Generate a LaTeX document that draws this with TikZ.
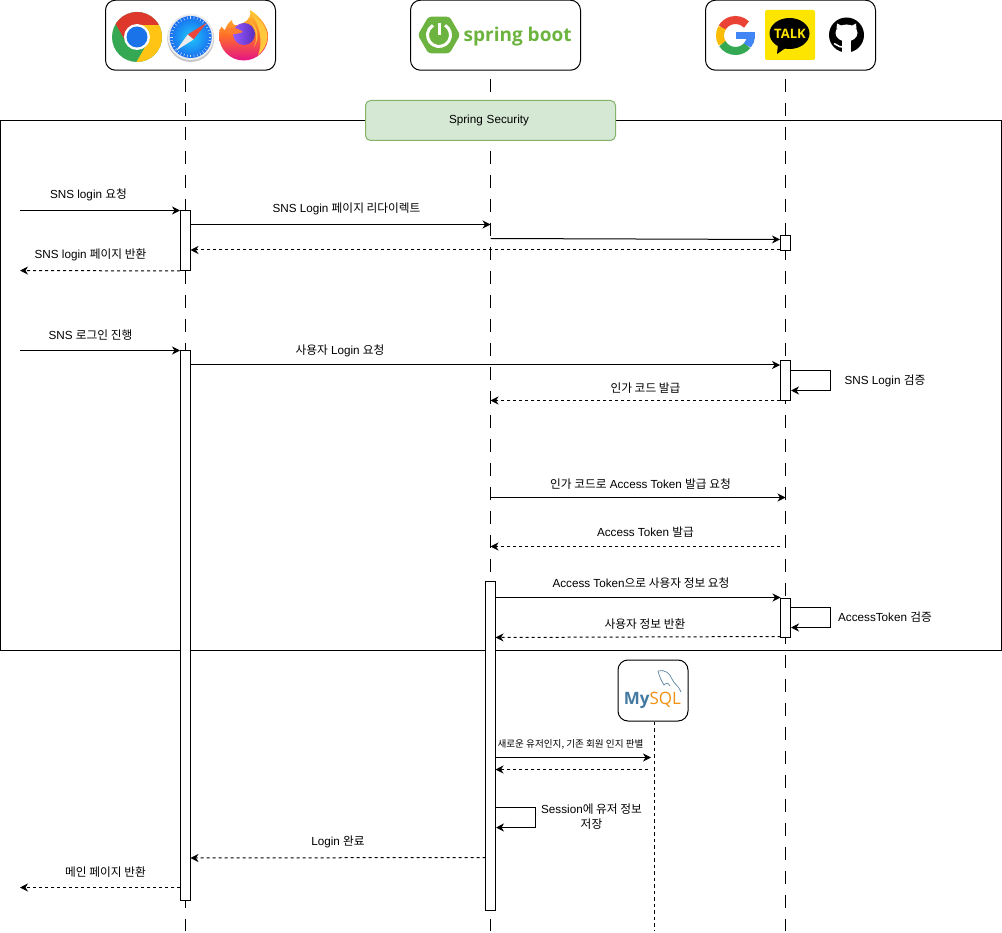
\documentclass[tikz,border=0pt]{standalone}
\usepackage{fontspec}
\setmainfont{Liberation Sans}
\newfontfamily\kr{Noto Sans CJK KR}
\newfontfamily\logofont{Open Sans}
\usetikzlibrary{arrows.meta,shapes.geometric,calc}
\newcommand\K[1]{{\kr #1}}
\definecolor{ssfill}{HTML}{D5E8D4}
\definecolor{ssdraw}{HTML}{82B366}
\definecolor{sprgreen}{HTML}{6DB33F}
\tikzset{
  header/.style={draw=black,line width=1pt,rounded corners=10pt,fill=white,minimum width=170pt,minimum height=70pt,inner sep=0pt},
  lifeline/.style={draw=black,line width=1pt,dash pattern=on 13pt off 11pt,dash phase=16pt},
  thinlife/.style={draw=black,line width=1pt,dash pattern=on 3.5pt off 3pt},
  act/.style={draw=black,line width=1pt,fill=white,minimum width=10pt,inner sep=0pt,anchor=north},
  msg/.style={draw=black,line width=1pt,-{Stealth[length=8pt,width=8pt,inset=2.5pt]}},
  ret/.style={msg,dash pattern=on 3pt off 3pt},
  lab/.style={font=\fontsize{11.7}{14}\selectfont,inner sep=0pt,align=center},
  smalllab/.style={font=\fontsize{9.6}{11}\selectfont,inner sep=0pt},
}
\begin{document}
\begin{tikzpicture}[x=1pt,y=-1pt]
\useasboundingbox (0,0) rectangle (1002,933);
% frame
\node[draw=black,line width=1pt,minimum width=1000.5pt,minimum height=529.5pt,anchor=north west,inner sep=0pt] (frame) at (0,120.5) {};
% headers
\node[header] (hA) at (190.5,35.2) {};
\node[header] (hB) at (495.5,35.2) {};
\node[header] (hC) at (790.5,35.2) {};
\node[draw=black,line width=1pt,rounded corners=10pt,fill=white,minimum width=70pt,minimum height=61pt,inner sep=0pt] (hD) at (653,690.5) {};
% lifelines
\coordinate (endA) at (185.5,931);
\coordinate (endB) at (490.5,931);
\coordinate (endC) at (785.5,931);
\coordinate (endD) at (654.5,931);
\draw[lifeline] (hA.south -| endA) -- (endA);
\draw[lifeline] (hB.south -| endB) -- (endB);
\draw[lifeline] (hC.south -| endC) -- (endC);
\draw[thinlife] (hD.south -| endD) -- (endD);
% Spring Security
\node[draw=ssdraw,fill=ssfill,line width=1pt,rounded corners=5pt,minimum width=250pt,minimum height=40pt,inner sep=0pt,font=\fontsize{11.7}{14}\selectfont,text width=250pt,align=center] (ss) at (490.5,120.5) {\hspace*{-3pt}Spring Security};
% activations
\node[act,minimum height=59.5pt] (A1) at (185.5,210.5) {};
\node[act,minimum height=549.5pt] (A2) at (185.5,350.5) {};
\node[act,minimum height=329.5pt] (B1) at (490.5,580.5) {};
\node[act,minimum height=15pt] (C1) at (785.5,235.5) {};
\node[act,minimum height=40pt] (C2) at (785.5,360.5) {};
\node[act,minimum height=39.5pt] (C3) at (785.5,597.5) {};
% free ends
\coordinate (f1) at (20,210.5);
\coordinate (f2) at (20,270.5);
\coordinate (f3) at (20,350.5);
\coordinate (f4) at (20,887.5);
\coordinate (a2y) at (185.5,224.5);
\coordinate (b2) at (490.5,224.5);
\coordinate (b3) at (490.5,238.5);
\coordinate (c3) at (780,239.5);
\coordinate (c4) at (780,250);
\coordinate (a4) at (190.5,250);
\coordinate (c7) at (780,365);
\coordinate (a7) at (190.5,365);
\coordinate (c9) at (780,400.5);
\coordinate (b9) at (490.5,400.5);
\coordinate (b10) at (490.5,497.5);
\coordinate (c10) at (785.5,497.5);
\coordinate (c11) at (780,546.5);
\coordinate (b11) at (490.5,546.5);
\coordinate (b12) at (495.5,597.5);
\coordinate (c12) at (780.5,597.5);
\coordinate (c14) at (780.5,636.5);
\coordinate (b14) at (495.5,637.5);
\coordinate (b15) at (495.5,757.5);
\coordinate (d15) at (651,757.5);
\coordinate (d16) at (648,769.5);
\coordinate (b16) at (495.5,769.5);
\coordinate (b18) at (485.5,857.5);
\coordinate (a18) at (190.5,858);
% messages
\draw[msg] (f1) -- (A1.north west);
\draw[msg] (A1.east |- a2y) -- (b2);
\draw[msg] (b3) -- (c3);
\draw[ret] (c4) -- (a4);
\draw[ret] (A1.south west) -- (f2);
\draw[msg] (f3) -- (A2.north west);
\draw[msg] (a7) -- (c7);
\draw[msg] (C2.east |- 0,371) -- (830.5,371) -- (830.5,390.5) -- (C2.east |- 0,390.5);
\draw[ret] (c9) -- (b9);
\draw[msg] (b10) -- (c10);
\draw[ret] (c11) -- (b11);
\draw[msg] (b12) -- (c12);
\draw[msg] (C3.east |- 0,607.5) -- (830.5,607.5) -- (830.5,627.5) -- (C3.east |- 0,627.5);
\draw[ret] (c14) -- (b14);
\draw[msg] (b15) -- (d15);
\draw[ret] (d16) -- (b16);
\draw[msg] (B1.east |- 0,807.5) -- (535.5,807.5) -- (535.5,827.5) -- (B1.east |- 0,827.5);
\draw[ret] (b18) -- (a18);
\draw[ret] (A2.west |- f4) -- (f4);
% labels
\node[lab] (t1) at (88.5,195) {SNS login \K{요청}};
\node[lab] (t2) at (346.5,209) {SNS Login \K{페이지 리다이렉트}};
\node[lab] (t3) at (90.5,255) {SNS login \K{페이지 반환}};
\node[lab] (t4) at (90.5,335) {SNS \K{로그인 진행}};
\node[lab] (t5) at (340,351) {\K{사용자} Login \K{요청}};
\node[lab] (t6) at (885,380.5) {SNS Login \K{검증}};
\node[lab] (t7) at (645.5,388) {\K{인가 코드 발급}};
\node[lab] (t8) at (640.5,484.5) {\K{인가 코드로} Access Token \K{발급 요청}};
\node[lab] (t9) at (645.5,532) {Access Token \K{발급}};
\node[lab] (t10) at (641,583.5) {Access Token\K{으로 사용자 정보 요청}};
\node[lab] (t11) at (885,617.5) {AccessToken \K{검증}};
\node[lab] (t12) at (645,624) {\K{사용자 정보 반환}};
\node[smalllab] (t13) at (570.5,744) {\K{새로운 유저인지, 기존 회원 인지 판별}};
\node[lab] (t14) at (591.5,816.5) {Session\K{에 유저 정보}\\[1pt]\K{저장}};
\node[lab] (t15) at (338,842) {Login \K{완료}};
\node[lab] (t16) at (105.5,872) {\K{메인 페이지 반환}};
% ===== Chrome
\begin{scope}
\clip (137,37) circle[radius=25pt];
\fill[fill={rgb,255:red,52;green,168;blue,83}] (110,10) rectangle (165,65);
\fill[fill={rgb,255:red,255;green,196;blue,20}] (137,25) -- (170,25) -- (170,70) -- (132.4,69) -- (147.4,43) -- cycle;
\fill[fill={rgb,255:red,222;green,56;blue,44}] (126.6,43) -- (111.6,17) -- (111.6,0) -- (170,0) -- (170,25) -- (137,25) -- cycle;
\end{scope}
\fill[white] (137,37) circle[radius=13pt];
\fill[fill={rgb,255:red,26;green,115;blue,232}] (137,37) circle[radius=10.5pt];
% ===== Safari
\fill[black!22] (190.7,38.5) circle[radius=23.5pt];
\fill[black!8] (190.7,37) circle[radius=23pt];
\shade[inner color={rgb,255:red,30;green,200;blue,250},outer color={rgb,255:red,25;green,110;blue,240}] (190.7,37) circle[radius=21pt];
\foreach \a in {0,10,...,350}{\draw[white,line width=0.5pt,opacity=.8] (190.7,37) ++(\a:18pt) -- ++(\a:2.5pt);}
\fill[fill={rgb,255:red,235;green,70;blue,60}] (206.7,22.7) -- (187.7,34.5) -- (193.5,39.5) -- cycle;
\fill[black!8] (176,50.7) -- (187.7,34.5) -- (193.5,39.5) -- cycle;
% ===== Firefox
\shade[top color={rgb,255:red,255;green,205;blue,50},bottom color={rgb,255:red,228;green,20;blue,135},middle color={rgb,255:red,255;green,110;blue,40}]
 (219.2,36) .. controls (219,31) and (220,28) .. (221.7,26.5) .. controls (222.5,28) and (223.5,29.5) .. (225,30) .. controls (226,26) and (229,22) .. (232,20)
 .. controls (232,24) and (234,26) .. (238,25) .. controls (244,23) and (252,20) .. (250,10)
 .. controls (260,16) and (268,27) .. (268.2,36) arc[start angle=0,end angle=-180,radius=24.5pt] -- cycle;
\fill[fill={rgb,255:red,255;green,200;blue,60}] (252,14) .. controls (261,20) and (267,28) .. (267.5,37) .. controls (267,44) and (264,50) .. (258,55) .. controls (262,46) and (262,30) .. cycle;
\shade[left color={rgb,255:red,150;green,90;blue,255},right color={rgb,255:red,90;green,45;blue,190}] (244,34) circle[radius=11pt];
\fill[fill={rgb,255:red,255;green,125;blue,50}] (226,29) .. controls (233,27) and (238,28) .. (243,32) .. controls (238,34) and (232,35) .. (228,33) -- cycle;
\fill[fill={rgb,255:red,255;green,190;blue,60}] (250,21) .. controls (258,27) and (260,38) .. (254,47) .. controls (258,38) and (256,29) .. cycle;
% ===== Spring Boot
\node[regular polygon,regular polygon sides=6,fill=sprgreen,draw=sprgreen,line width=2pt,rounded corners=2.5pt,minimum size=40pt,inner sep=0pt] (hex) at (439,35) {};
\draw[white,line width=3pt] (439,35) ++(58:11.5pt) arc[start angle=58,end angle=-238,radius=11.5pt];
\draw[white,line width=3pt] (439,23) -- (439,35);
\node[font=\logofont\bfseries\fontsize{19}{22}\selectfont,text=sprgreen,inner sep=0pt,anchor=west] (sb) at (463.5,36.5) {spring boot};
% ===== Google
\begin{scope}[line width=8pt]
\draw[color={rgb,255:red,234;green,67;blue,53}] (735.5,35.5) ++(45:15.5pt) arc[start angle=45,end angle=150,radius=15.5pt];
\draw[color={rgb,255:red,251;green,188;blue,5}] (735.5,35.5) ++(150:15.5pt) arc[start angle=150,end angle=212,radius=15.5pt];
\draw[color={rgb,255:red,52;green,168;blue,83}] (735.5,35.5) ++(212:15.5pt) arc[start angle=212,end angle=320,radius=15.5pt];
\draw[color={rgb,255:red,66;green,133;blue,244}] (735.5,35.5) ++(320:15.5pt) arc[start angle=320,end angle=358,radius=15.5pt];
\end{scope}
\fill[fill={rgb,255:red,66;green,133;blue,244}] (736,32) rectangle (755,39.5);
% ===== KakaoTalk
\node[fill={rgb,255:red,254;green,229;blue,0},rounded corners=2pt,minimum size=50pt,inner sep=0pt] (kk) at (790,35) {};
\fill[black] (789.5,33.5) ellipse[x radius=20pt,y radius=15.5pt];
\fill[black] (778,44) -- (777,54) -- (787,47) -- cycle;
\node[font=\logofont\bfseries\fontsize{13}{15}\selectfont,text={rgb,255:red,254;green,229;blue,0},inner sep=0pt] (talk) at (790,33.5) {TALK};
% ===== GitHub
\fill[black] (846.5,35) circle[radius=17.5pt];
\fill[white] (846.5,33) ellipse[x radius=11pt,y radius=8.5pt];
\fill[white] (836.5,29) -- (837,23.5) -- (842,26) -- cycle;
\fill[white] (856.5,29) -- (856,23.5) -- (851,26) -- cycle;
\fill[white] (842,40) rectangle (851,53);
\draw[white,line width=1.5pt] (842,47) .. controls (838,47) and (837,44) .. (834,43.5);
% ===== MySQL
\node[font=\logofont\fontsize{17}{20}\selectfont,inner sep=0pt] (my) at (652.5,700) {\textcolor[HTML]{4479A1}{\bfseries My}\textcolor[HTML]{F29111}{SQL}};
\draw[color={rgb,255:red,93;green,135;blue,161},line width=.7pt] (658,671) .. controls (664,669) and (670,673) .. (672,679) .. controls (674,684) and (679,686) .. (681,692);
\draw[color={rgb,255:red,93;green,135;blue,161},line width=.7pt] (658,671) .. controls (659,676) and (662,682) .. (664,685) .. controls (666,683) and (668,682) .. (670,686);
\end{tikzpicture}
\end{document}
